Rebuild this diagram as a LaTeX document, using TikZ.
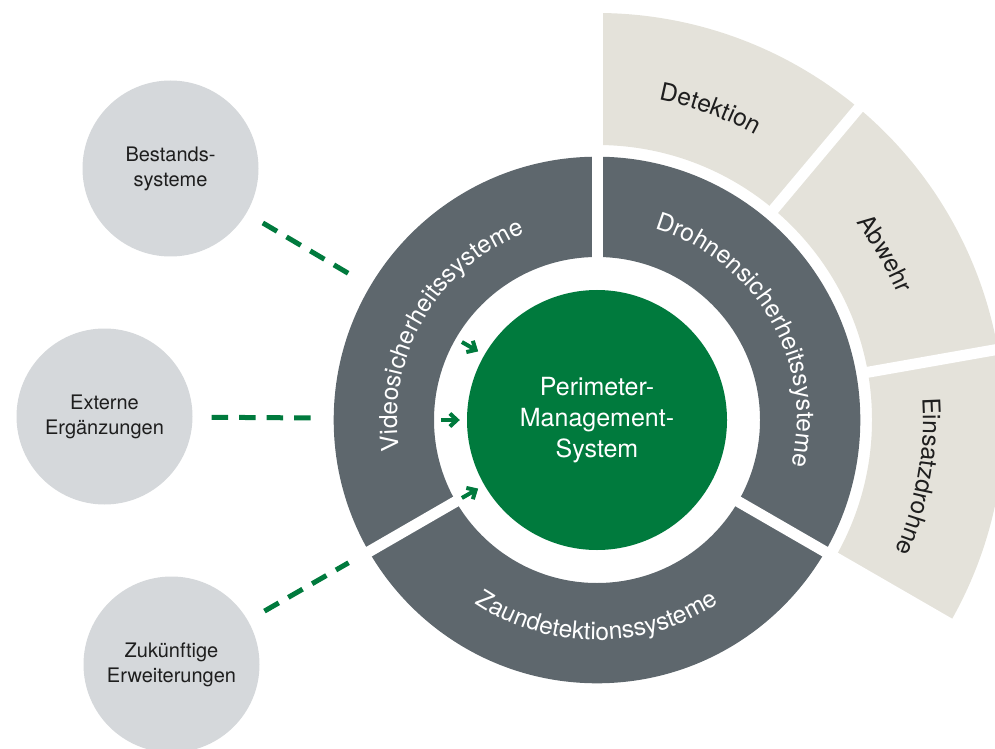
\documentclass[tikz,border=0pt]{standalone}
\usepackage{fontspec}
\setmainfont{TeX Gyre Heros}
\usetikzlibrary{arrows.meta,calc,decorations.text}
\definecolor{pmsgreen}{RGB}{0,122,61}
\definecolor{ringgray}{RGB}{94,103,109}
\definecolor{sandbeige}{RGB}{228,226,218}
\definecolor{bubblegray}{RGB}{213,216,219}
\definecolor{textdark}{RGB}{30,30,30}
\newcommand{\ringfont}{\fontsize{24.5}{24.5}\selectfont}

\begin{document}
\begin{tikzpicture}[x=1pt,y=1pt,
  ringtext/.style={decorate,decoration={text along path,text align=center,text={|\ringfont\color{white}|#1}}},
  sandtext/.style={decorate,decoration={text along path,text align=center,text={|\ringfont\color{textdark}|#1}}}]
\tikzstyle{bubble}=[circle,fill=bubblegray,minimum size=176pt,inner sep=0pt,align=center,text=textdark,font=\fontsize{20}{25}\selectfont]
\tikzstyle{link}=[pmsgreen,line width=5pt,dash pattern=on 16.5pt off 11pt,shorten <=19pt,shorten >=23pt]
\tikzstyle{feed}=[pmsgreen,line width=4pt,-{Straight Barb[length=7pt,width=13pt]},shorten >=7pt]
\tikzstyle{gap}=[white,line width=11pt]
\useasboundingbox (0,0) rectangle (995,748);
\coordinate (C) at (597,328);

\fill[sandbeige] ($(C)+(90:275)$) arc[start angle=90,end angle=-30,radius=275]
  -- ($(C)+(-30:407)$) arc[start angle=-30,end angle=90,radius=407] -- cycle;
\fill[ringgray,even odd rule] (C) circle[radius=263.3] (C) circle[radius=163];
\foreach \a/\r in {90/430,330/430,210/275}
  \draw[gap] ($(C)+(\a:150)$) -- ($(C)+(\a:\r)$);
\foreach \a in {50,10}
  \draw[gap] ($(C)+(\a:268)$) -- ($(C)+(\a:430)$);

\node[circle,fill=pmsgreen,minimum size=260pt,inner sep=0pt,text=white,align=center,
  font=\fontsize{25}{31}\selectfont] (pms) at (C) {Perimeter-\\Management-\\System};
\node[circle,minimum size=526.6pt,inner sep=0pt] (hub) at (C) {};

\path[ringtext=Videosicherheitssysteme] ($(C)+(210:200)$) arc[start angle=210,end angle=90,radius=200];
\path[ringtext=Drohnensicherheitssysteme] ($(C)+(90:200)$) arc[start angle=90,end angle=-30,radius=200];
\path[ringtext=Zaundetektionssysteme] ($(C)+(210:220)$) arc[start angle=210,end angle=330,radius=220];

\path[sandtext=Detektion] ($(C)+(90:326)$) arc[start angle=90,end angle=50,radius=326];
\path[sandtext=Abwehr] ($(C)+(50:326)$) arc[start angle=50,end angle=10,radius=326];
\path[sandtext=Einsatzdrohne] ($(C)+(10:326)$) arc[start angle=10,end angle=-30,radius=326];

\foreach \a in {150,180,210}
  \draw[feed] ($(C)+(\a:156)$) -- (pms);

\node[bubble] (best) at (170.5,579.5) {Bestands-\\systeme};
\node[bubble] (ext) at (104.5,331.5) {Externe\\Ergänzungen};
\node[bubble] (zuk) at (171.5,83.5) {Zukünftige\\Erweiterungen};

\draw[link] (best) -- (hub);
\draw[link] (ext) -- (hub);
\draw[link] (zuk) -- (hub);
\end{tikzpicture}
\end{document}
